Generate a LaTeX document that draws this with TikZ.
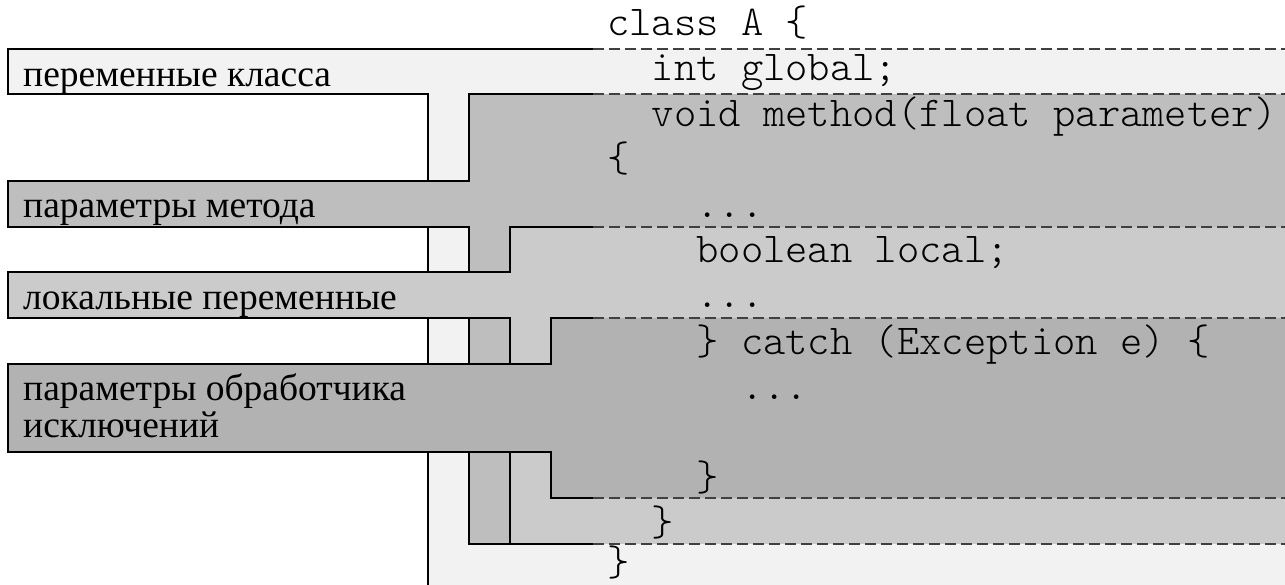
\documentclass[tikz,border=0pt]{standalone}
\usepackage{fontspec}
\newfontfamily\labfont{Liberation Serif}
\newfontfamily\codefont{lmmonolt10-regular.otf}
\begin{document}
\begin{tikzpicture}[x=1pt,y=-1pt,
  edge/.style={draw=black,line width=2pt,line join=miter},
  dashline/.style={draw=black!75,line width=1.3pt,dash pattern=on 11pt off 5pt},
  clsfill/.style={fill=black!5},
  methfill/.style={fill=black!25.5},
  locfill/.style={fill=black!20.5},
  catfill/.style={fill=black!30},
  lab/.style={anchor=base west,inner sep=0pt,font=\labfont\fontsize{37.5}{37}\selectfont,align=left},
  code/.style={anchor=base west,inner sep=0pt,font=\codefont\fontsize{42.5}{45}\selectfont}
]
\useasboundingbox (0,0) rectangle (1285,585);
% class scope
\fill[clsfill] (428,49) rectangle (1285,585);
\fill[clsfill] (8,49) rectangle (428,94);
\draw[edge] (593,49) -- (8,49) -- (8,94) -- (428,94) -- (428,585);
% method scope
\fill[methfill] (469,94) rectangle (1285,544);
\fill[methfill] (8,181) rectangle (469,227);
\draw[edge] (593,94) -- (469,94) -- (469,181) -- (8,181) -- (8,227) -- (469,227) -- (469,544) -- (593,544);
% local scope
\fill[locfill] (510,227) rectangle (1285,544);
\fill[locfill] (8,272) rectangle (510,318);
\draw[edge] (593,227) -- (510,227) -- (510,272) -- (8,272) -- (8,318) -- (510,318) -- (510,544) -- (593,544);
% catch scope
\fill[catfill] (551,318) rectangle (1285,498);
\fill[catfill] (8,364) rectangle (551,452);
\draw[edge] (593,318) -- (551,318) -- (551,364) -- (8,364) -- (8,452) -- (551,452) -- (551,498) -- (593,498);
% dashed separators
\foreach \yy in {49,94,227,318,498,544} {
  \draw[dashline] (593,\yy) -- (1285,\yy);
}
% labels
\node[lab] (l1) at (23,87) {переменные класса};
\node[lab] (l2) at (23,218) {параметры метода};
\node[lab] (l3) at (23,309) {локальные переменные};
\node[lab] (l4a) at (23,400) {параметры обработчика};
\node[lab] (l4b) at (23,437) {исключений};
% code
\node[code] (c1) at (607,36) {class A \{};
\node[code] (c2) at (651.6,81) {int global;};
\node[code] (c3) at (651.6,127) {void method(float parameter)};
\node[code] (c4) at (607,172) {\{};
\node[code] (c5) at (696.2,218) {...};
\node[code] (c6) at (696.2,263) {boolean local;};
\node[code] (c7) at (696.2,308) {...};
\node[code] (c8) at (696.2,354) {\} catch (Exception e) \{};
\node[code] (c9) at (740.8,399) {...};
\node[code] (c11) at (696.2,490) {\}};
\node[code] (c12) at (651.6,535) {\}};
\node[code] (c13) at (607,575) {\}};
\end{tikzpicture}
\end{document}
